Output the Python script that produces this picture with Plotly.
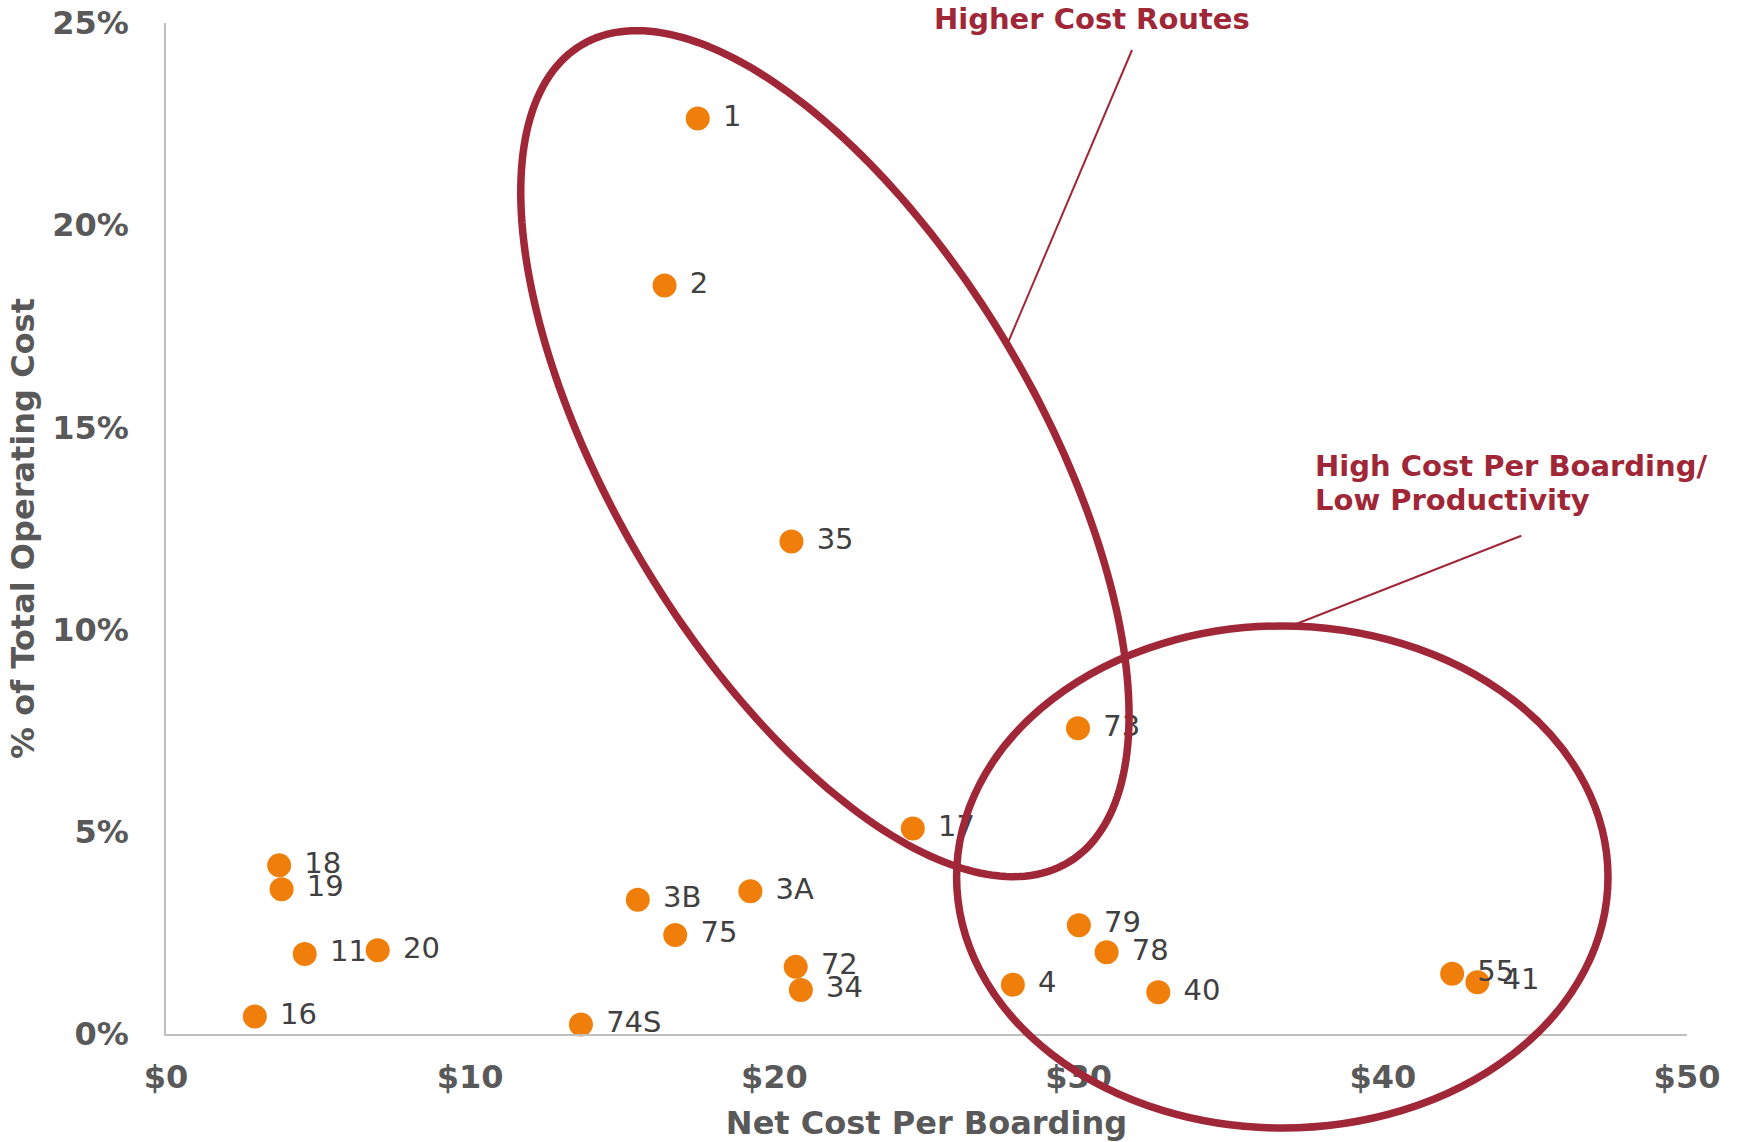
import numpy as np
import plotly.graph_objects as go

# ---------------- data ----------------
routes = ["1", "2", "35", "73", "17", "18", "19", "11", "20", "16", "3B",
          "3A", "75", "72", "34", "74S", "79", "78", "4", "40", "55", "41"]
net_cost_per_boarding = [17.48, 16.39, 20.56, 29.98, 24.55, 3.72, 3.80, 4.56,
                         6.96, 2.92, 15.51, 19.21, 16.74, 20.70, 20.87, 13.64,
                         30.01, 30.92, 27.84, 32.62, 42.28, 43.11]
pct_total_operating_cost = [0.2264, 0.1851, 0.1218, 0.0756, 0.0508, 0.0417,
                            0.0358, 0.0198, 0.0207, 0.0043, 0.0332, 0.0353,
                            0.0245, 0.0166, 0.0109, 0.00235, 0.0269, 0.0202,
                            0.0122, 0.0103, 0.0149, 0.0128]
x_ticks = [0, 10, 20, 30, 40, 50]
y_ticks = [0, 0.05, 0.10, 0.15, 0.20, 0.25]

# ---------------- geometry / style ----------------
W, H = 1740, 1142
L, R, T, B = 166, 53, 23, 108
PW, PH = W - L - R, H - T - B
ORANGE = "#EF7F0A"
DARKRED = "#9F2738"
GRAY = "#595959"
FONT = "DejaVu Sans"


def px2x(px):
    return (px - L) / PW


def py2y(py):
    return (H - B - py) / PH


fig = go.Figure()
fig.add_trace(go.Scatter(
    x=net_cost_per_boarding, y=pct_total_operating_cost,
    text=[" " + r for r in routes],
    mode="markers+text", textposition="middle right",
    marker=dict(size=24, color=ORANGE, line=dict(width=0)),
    textfont=dict(family=FONT, size=29, color="#404040"),
    cliponaxis=False, showlegend=False, hoverinfo="x+y+text",
))

# rotated ellipse ("Higher Cost Routes")
cx, cy, a, b, th = 824.9, 453.7, 475.7, 212.5, np.radians(59.25)
t = np.linspace(0, 2 * np.pi, 241)
ex = cx + a * np.cos(t) * np.cos(th) - b * np.sin(t) * np.sin(th)
ey = cy + a * np.cos(t) * np.sin(th) + b * np.sin(t) * np.cos(th)
path = "M " + " L ".join(f"{px2x(u):.5f},{py2y(v):.5f}" for u, v in zip(ex, ey)) + " Z"

shapes = [
    dict(type="path", xref="paper", yref="paper", path=path,
         line=dict(color=DARKRED, width=7.5), layer="above"),
    dict(type="circle", xref="paper", yref="paper",
         x0=px2x(1282.3 - 325.7), x1=px2x(1282.3 + 325.7),
         y0=py2y(877 + 251), y1=py2y(877 - 251),
         line=dict(color=DARKRED, width=7.5), layer="above"),
    dict(type="line", xref="paper", yref="paper",
         x0=px2x(1132), y0=py2y(50), x1=px2x(1008.7), y1=py2y(341),
         line=dict(color=DARKRED, width=2), layer="above"),
    dict(type="line", xref="paper", yref="paper",
         x0=px2x(1521.3), y0=py2y(535.7), x1=px2x(1291), y1=py2y(626),
         line=dict(color=DARKRED, width=2), layer="above"),
]

ann_font = dict(family=FONT, size=29, color=DARKRED)
annotations = [
    dict(text="<b>Higher Cost Routes</b>", xref="paper", yref="paper",
         x=px2x(1092), y=py2y(19), xanchor="center", yanchor="middle",
         showarrow=False, font=ann_font),
    dict(text="<b>High Cost Per Boarding/</b>", xref="paper", yref="paper",
         x=px2x(1313), y=py2y(466), xanchor="left", yanchor="middle",
         showarrow=False, font=ann_font),
    dict(text="<b>Low Productivity</b>", xref="paper", yref="paper",
         x=px2x(1313), y=py2y(500), xanchor="left", yanchor="middle",
         showarrow=False, font=ann_font),
]

axis_font = dict(family=FONT, size=32, color=GRAY)
fig.update_layout(
    template="none",
    width=W, height=H,
    margin=dict(l=L, r=R, t=T, b=B, pad=0),
    paper_bgcolor="white", plot_bgcolor="white",
    font=dict(family=FONT),
    shapes=shapes, annotations=annotations,
    xaxis=dict(range=[0, 50], tickvals=x_ticks,
               ticktext=[f"<b>${v}</b>" for v in x_ticks],
               showgrid=False, zeroline=False, showline=True,
               linecolor="#BFBFBF", linewidth=1.5, ticks="",
               ticklabelstandoff=14, tickfont=axis_font, automargin=False,
               title=dict(text="<b>Net Cost Per Boarding</b>", font=axis_font,
                          standoff=18)),
    yaxis=dict(range=[0, 0.25], tickvals=y_ticks,
               ticktext=[f"<b>{round(v * 100)}%</b>" for v in y_ticks],
               showgrid=False, zeroline=False, showline=True,
               linecolor="#BFBFBF", linewidth=1.5, ticks="",
               ticklabelstandoff=29, tickfont=axis_font, automargin=False,
               title=dict(text="<b>% of Total Operating Cost</b>", font=axis_font,
                          standoff=8)),
)

fig.write_html("out.html")
